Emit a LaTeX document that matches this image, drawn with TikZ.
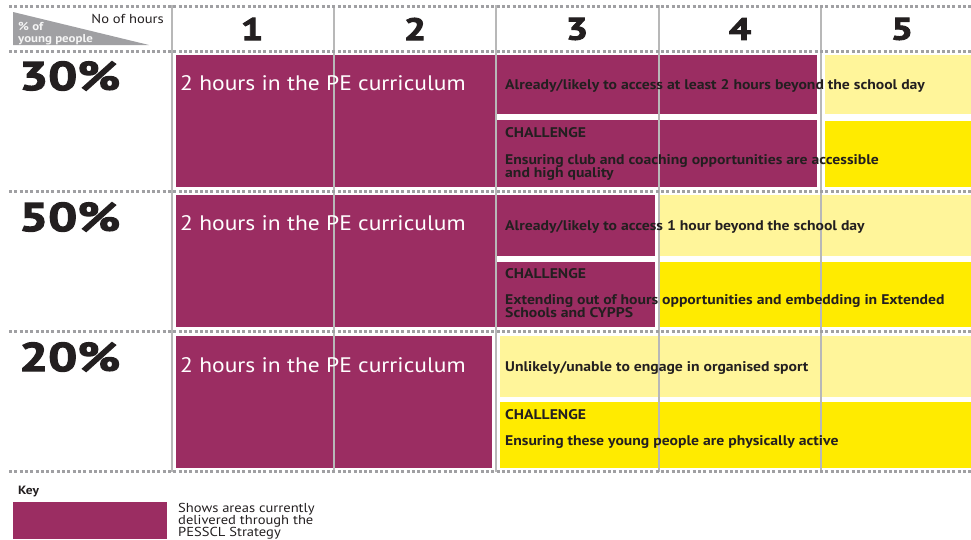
\documentclass[tikz,border=0pt]{standalone}
\usepackage{fontspec}
\setmainfont{PT Sans}
\newfontfamily\heavyfont[FakeStretch=1.28,FakeBold=3]{PT Sans}
\newfontfamily\notefont[FakeStretch=1.12]{PT Sans}
\usepackage{tikz}
\usetikzlibrary{positioning}
\definecolor{pe1}{HTML}{9B2D62}
\definecolor{yellow1}{HTML}{FFF59A}
\definecolor{yellow2}{HTML}{FFEB00}
\definecolor{gray1}{HTML}{B8B8B8}
\definecolor{gray2}{HTML}{A0A0A3}
\definecolor{ink1}{HTML}{231F20}

\begin{document}
\begin{tikzpicture}[
    x=1pt, y=-1pt,
    cell/.style={anchor=north west, inner sep=0pt, outer sep=0pt, draw=none},
    pecell/.style={cell, fill=pe1},
    palecell/.style={cell, fill=yellow1},
    brightcell/.style={cell, fill=yellow2},
    rowrule/.style={gray2, line width=3pt, dash pattern=on 3pt off 2.3pt},
    colrule/.style={gray1, line width=1.1pt},
    hour/.style={font=\heavyfont\bfseries\fontsize{31}{31}\selectfont,
                 text=ink1},
    share/.style={font=\heavyfont\bfseries\fontsize{40}{40}\selectfont,
                  text=ink1, anchor=west, inner sep=0pt},
    petext/.style={font=\notefont\fontsize{21}{22}\selectfont, text=white,
                   anchor=base west, inner sep=0pt},
    note/.style={font=\notefont\bfseries\fontsize{14}{14}\selectfont,
                 text=ink1, anchor=base west, inner sep=0pt},
    keytext/.style={font=\notefont\fontsize{13}{13}\selectfont, text=ink1,
                    anchor=base west, inner sep=0pt},
]
\useasboundingbox (0,0) rectangle (971,539);

% ── 30% row ──
\node[pecell, minimum width=321pt, minimum height=132pt] (pe30) at (176,55) {};
\node[pecell, minimum width=320pt, minimum height=59pt] (acc30) at (497,55) {};
\node[pecell, minimum width=320pt, minimum height=67pt] (ch30) at (497,120) {};
\node[palecell, minimum width=146pt, minimum height=59pt] (xa30) at (825,55) {};
\node[brightcell, minimum width=146pt, minimum height=66pt] (xb30) at (825,121) {};

% ── 50% row ──
\node[pecell, minimum width=321pt, minimum height=132pt] (pe50) at (176,195) {};
\node[pecell, minimum width=158pt, minimum height=61pt] (acc50) at (497,195) {};
\node[pecell, minimum width=158pt, minimum height=65pt] (ch50) at (497,262) {};
\node[palecell, minimum width=311pt, minimum height=61pt] (xa50) at (660,195) {};
\node[brightcell, minimum width=311pt, minimum height=65pt] (xb50) at (660,262) {};

% ── 20% row ──
\node[pecell, minimum width=316pt, minimum height=132pt] (pe20) at (176,336) {};
\node[palecell, minimum width=471pt, minimum height=61pt] (xa20) at (500,336) {};
\node[brightcell, minimum width=471pt, minimum height=66pt] (xb20) at (500,402) {};

% ── rules ──
\draw[colrule] (172,5) -- (172,472);
\draw[colrule] (334,5) -- (334,472);
\draw[colrule] (496,5) -- (496,472);
\draw[colrule] (659,5) -- (659,472);
\draw[colrule] (821,5) -- (821,472);
\draw[rowrule] (9,6) -- (971,6);
\draw[rowrule] (9,51) -- (971,51);
\draw[rowrule] (9,191) -- (971,191);
\draw[rowrule] (9,331) -- (971,331);
\draw[rowrule] (9,471) -- (971,471);

% ── header ──
\fill[gray2] (13,12) -- (13,45) -- (149,45) -- cycle;
\node[font=\notefont\bfseries\fontsize{11.5}{11}\selectfont, text=white!92!gray,
      anchor=base west, inner sep=0pt] (pct) at (18,30) {\% of};
\node[font=\notefont\bfseries\fontsize{11.5}{11}\selectfont, text=white!92!gray,
      anchor=base west, inner sep=0pt] (young) at (18,42) {young people};
\node[font=\notefont\fontsize{13}{13}\selectfont, text=ink1, anchor=base east,
      inner sep=0pt] (noh) at (164,23) {No of hours};
\node[hour] (h1) at (252,29) {1};
\node[hour] (h2) at (415,29) {2};
\node[hour] (h3) at (577,29) {3};
\node[hour] (h4) at (740,29) {4};
\node[hour] (h5) at (902,29) {5};

% ── row labels ──
\node[share] (s30) at (19,76) {30\%};
\node[share] (s50) at (19,217) {50\%};
\node[share] (s20) at (19,357) {20\%};

% ── texts ──
\node[petext] at ([xshift=4pt,yshift=-35pt]pe30.north west) (t30) {2 hours in the PE curriculum};
\node[petext] at ([xshift=4pt,yshift=-35pt]pe50.north west) (t50) {2 hours in the PE curriculum};
\node[petext] at ([xshift=4pt,yshift=-36pt]pe20.north west) (t20) {2 hours in the PE curriculum};

\node[note] at ([xshift=8pt,yshift=-5pt]acc30.west) (a30)
    {Already/likely to access at least 2 hours beyond the school day};
\node[note] at ([xshift=8pt,yshift=-17.5pt]ch30.north west) (c30) {CHALLENGE};
\node[note] at ([yshift=-26.5pt]c30.base west) (b30)
    {Ensuring club and coaching opportunities are accessible};
\node[note] at ([yshift=-13pt]b30.base west) (bb30) {and high quality};

\node[note] at ([xshift=8pt,yshift=-4.5pt]acc50.west) (a50)
    {Already/likely to access 1 hour beyond the school day};
\node[note] at ([xshift=8pt,yshift=-16.7pt]ch50.north west) (c50) {CHALLENGE};
\node[note] at ([yshift=-25.5pt]c50.base west) (b50)
    {Extending out of hours opportunities and embedding in Extended};
\node[note] at ([yshift=-13pt]b50.base west) (bb50) {Schools and CYPPS};

\node[note] at ([xshift=5pt,yshift=-4.5pt]xa20.west) (a20)
    {Unlikely/unable to engage in organised sport};
\node[note] at ([xshift=5pt,yshift=-17.3pt]xb20.north west) (c20) {CHALLENGE};
\node[note] at ([yshift=-25.7pt]c20.base west) (b20)
    {Ensuring these young people are physically active};

% ── key ──
\node[note, font=\notefont\bfseries\fontsize{12}{12}\selectfont] (key) at (18,494) {Key};
\node[pecell, minimum width=154pt, minimum height=37pt] (keybox) at (13,502) {};
\node[keytext] (k1) at (178,512) {Shows areas currently};
\node[keytext] (k2) at ([yshift=-12.3pt]k1.base west) {delivered through the};
\node[keytext] (k3) at ([yshift=-12.3pt]k2.base west) {PESSCL Strategy};

\end{tikzpicture}
\end{document}
